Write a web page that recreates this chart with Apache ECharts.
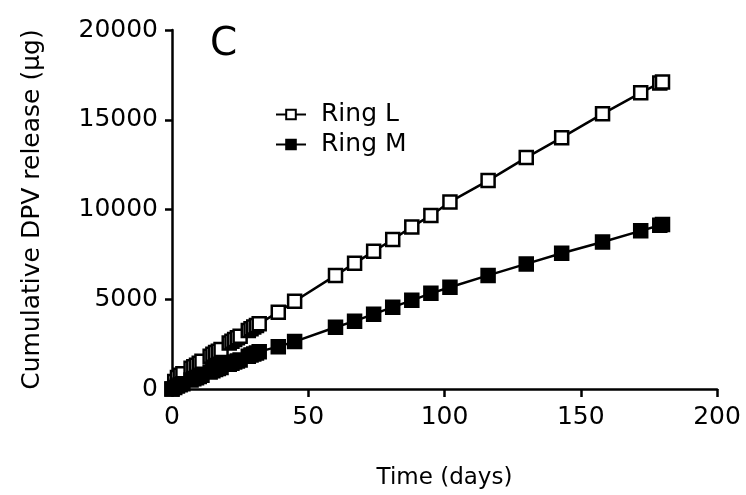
<!DOCTYPE html>
<html>
<head>
<meta charset="utf-8">
<script src="https://cdn.jsdelivr.net/npm/echarts@6/dist/echarts.min.js"></script>
<style>html,body{margin:0;padding:0;background:#fff}#c{width:746px;height:495px}</style>
</head>
<body>
<div id="c"></div>
<script>
var days = [0, 1, 2, 3, 4, 7, 8, 9, 10, 11, 14, 15, 16, 17, 18, 21, 22, 23, 24, 25, 28, 29, 30, 31, 32, 39, 45, 60, 67, 74, 81, 88, 95, 102, 116, 130, 143, 158, 172, 179, 180];
var ringL = [0, 420, 640, 760, 850, 1150, 1240, 1330, 1430, 1540, 1830, 1930, 2030, 2110, 2200, 2560, 2660, 2760, 2850, 2940, 3260, 3350, 3450, 3540, 3640, 4280, 4890, 6330, 7000, 7670, 8330, 9030, 9670, 10420, 11610, 12890, 14000, 15330, 16500, 17050, 17110];
var ringM = [0, 90, 170, 230, 290, 500, 570, 630, 700, 760, 950, 1010, 1080, 1140, 1200, 1380, 1440, 1500, 1560, 1620, 1830, 1890, 1950, 2010, 2080, 2360, 2640, 3440, 3780, 4170, 4560, 4940, 5330, 5670, 6330, 6970, 7560, 8190, 8810, 9120, 9170];
var xTicks = [0, 50, 100, 150, 200];
var yTicks = [0, 5000, 10000, 15000, 20000];

function pairs(xs, ys){ return xs.map(function(x,i){ return [x, ys[i]]; }); }
var FONT = 'DejaVu Sans, sans-serif';
var chart = echarts.init(document.getElementById('c'));
chart.setOption({
  animation: false,
  backgroundColor: '#fff',
  grid: {left: 172, right: 29, top: 30, bottom: 105, containLabel: false},
  title: {text: 'C', left: 205, top: 20, textStyle: {fontFamily: FONT, fontSize: 39, fontWeight: 'normal', color: '#000'}},
  legend: {
    left: 270, top: 97, orient: 'vertical', itemWidth: 30, itemHeight: 12, itemGap: 5,
    textStyle: {fontFamily: FONT, fontSize: 25, color: '#000', padding: [0,0,0,10]},
    data: ['Ring L', 'Ring M']
  },
  xAxis: {
    type: 'value', min: xTicks[0], max: xTicks[xTicks.length-1], interval: 50,
    name: 'Time (days)', nameLocation: 'middle', nameGap: 78,
    nameTextStyle: {fontFamily: FONT, fontSize: 23, color: '#000'},
    axisLine: {lineStyle: {color: '#000', width: 2.5}},
    axisTick: {show: true, length: 8, lineStyle: {color: '#000', width: 2.5}},
    axisLabel: {fontFamily: FONT, fontSize: 25, color: '#000', margin: 16},
    splitLine: {show: false}
  },
  yAxis: {
    type: 'value', min: yTicks[0], max: yTicks[yTicks.length-1], interval: 5000,
    name: 'Cumulative DPV release (μg)', nameLocation: 'middle', nameGap: 127,
    nameTextStyle: {fontFamily: FONT, fontSize: 25, color: '#000'},
    axisLine: {show: true, lineStyle: {color: '#000', width: 2.5}},
    axisTick: {show: true, length: 7, lineStyle: {color: '#000', width: 2.5}},
    axisLabel: {fontFamily: FONT, fontSize: 25, color: '#000', margin: 14, formatter: function(v){ return String(v); }},
    splitLine: {show: false}
  },
  series: [
    {
      name: 'Ring L', type: 'line', data: pairs(days, ringL),
      symbol: 'rect', symbolSize: 13, showAllSymbol: true,
      lineStyle: {color: '#000', width: 2.5},
      itemStyle: {color: '#fff', borderColor: '#000', borderWidth: 2.5},
      z: 2
    },
    {
      name: 'Ring M', type: 'line', data: pairs(days, ringM),
      symbol: 'rect', symbolSize: 13, showAllSymbol: true,
      lineStyle: {color: '#000', width: 2.5},
      itemStyle: {color: '#000', borderColor: '#000', borderWidth: 2.5},
      z: 3
    }
  ]
});
</script>
</body>
</html>
